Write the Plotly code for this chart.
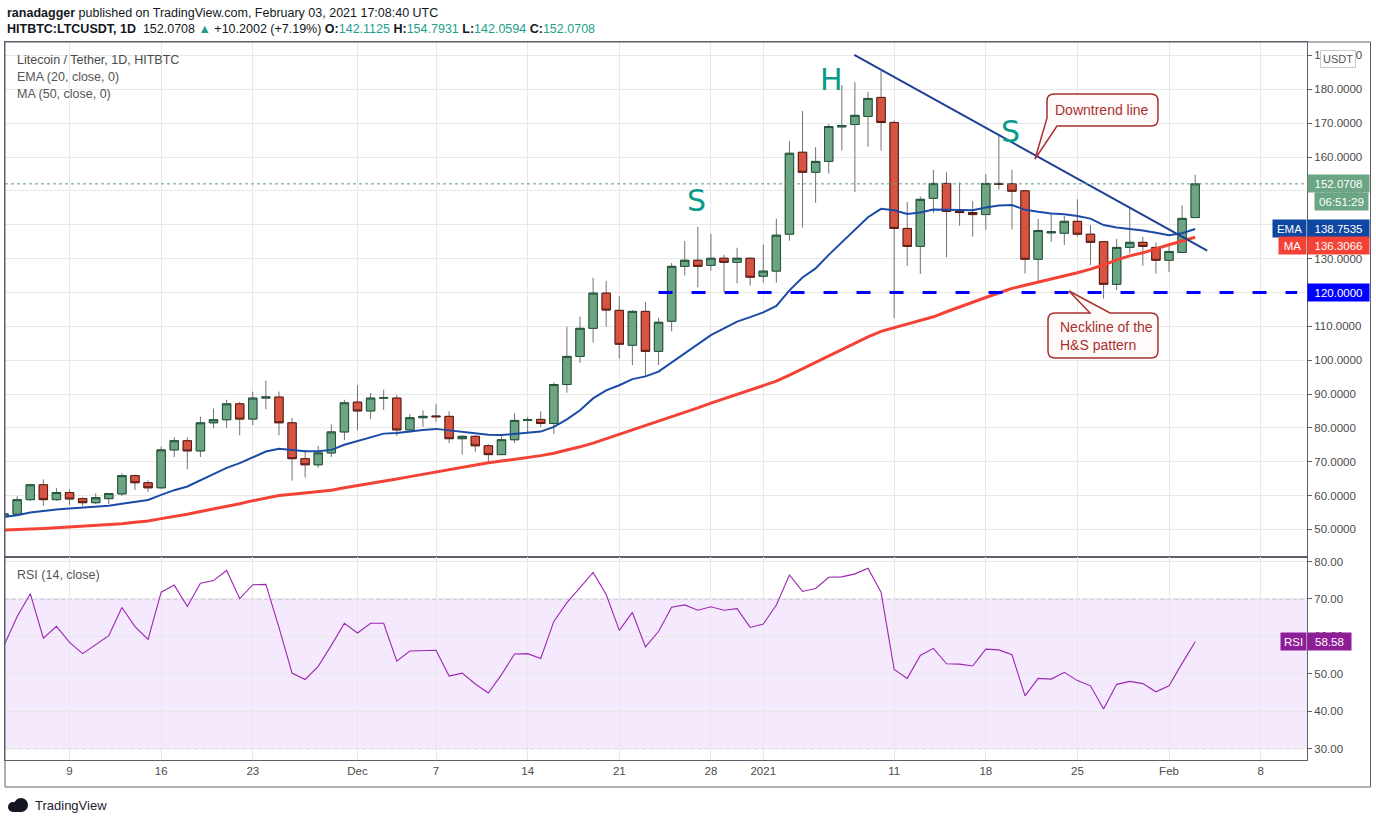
import plotly.graph_objects as go
import pandas as pd

# ---------------- data ----------------
dates = pd.date_range("2020-11-04", "2021-02-03", freq="D")

opens = [53.8, 54.5, 58.8, 63.2, 58.8, 60.9, 59.1, 57.9, 59.1, 60.5, 65.9, 63.8, 62.3, 73.5, 76.2, 73.2, 81.5,
         82.4, 87.1, 82.6, 88.8, 89.1, 81.5, 70.9, 69.1, 72.6, 78.8,
         87.6, 85.0, 88.8, 88.8, 79.4, 83.0, 83.5, 83.4, 76.8, 77.5, 74.7, 72.1, 76.5, 82.2, 82.5, 81.3,
         92.8, 101.1, 109.4, 119.8, 114.7, 104.4, 114.4, 102.6, 111.5, 127.7, 129.5, 128.0, 130.1, 128.9, 130.1,
         124.8, 126.3, 137.2, 161.4, 155.5, 158.7, 168.9, 169.6, 172.0, 177.6, 170.2, 138.9, 133.6, 147.8,
         152.2, 143.9, 143.6, 143.0, 152.2, 152.1, 150.0, 129.8, 137.6, 137.5, 141.0, 137.2, 135.0, 122.4,
         133.3, 134.8, 133.3, 129.5, 131.8, 142.1125]
highs = [55.0, 59.8, 63.5, 64.8, 62.2, 61.9, 59.5, 60.7, 60.7, 66.6, 66.2, 64.5, 74.5, 77.2, 77.2, 83.3, 85.7,
         88.3, 87.7, 90.7, 93.9, 90.7, 82.9, 73.5, 74.7, 81.0, 88.3,
         92.6, 90.3, 91.3, 89.7, 84.1, 85.2, 87.0, 84.9, 77.9, 77.9, 75.2, 77.5, 84.3, 83.2, 84.9, 93.4,
         109.9, 112.8, 124.3, 123.4, 118.9, 114.8, 117.2, 112.5, 128.7, 135.2, 139.4, 137.3, 131.1, 133.2, 130.3,
         134.1, 141.8, 164.7, 173.6, 162.9, 169.7, 181.2, 182.1, 179.2, 185.4, 170.8, 146.7, 148.3, 156.2,
         155.5, 152.5, 147.0, 155.0, 166.3, 156.2, 150.3, 141.7, 143.4, 142.6, 147.5, 139.9, 135.2, 135.8,
         145.3, 136.4, 134.8, 134.0, 145.7, 154.7931]
lows = [53.4, 54.3, 58.4, 57.0, 58.4, 57.2, 57.0, 57.5, 57.5, 59.9, 61.7, 61.1, 61.9, 71.4, 67.8, 71.4, 79.9,
        80.0, 77.8, 80.8, 85.5, 77.8, 64.4, 65.3, 68.2, 71.4, 76.4,
        79.3, 82.6, 85.3, 77.6, 78.5, 80.3, 81.8, 75.5, 72.1, 72.9, 69.4, 72.0, 75.6, 78.3, 80.3, 78.2,
        90.4, 99.2, 105.2, 109.9, 100.5, 98.5, 95.4, 98.5, 108.5, 125.0, 121.5, 126.5, 120.2, 122.7, 122.0,
        122.9, 122.9, 135.3, 139.2, 146.5, 155.1, 161.9, 149.7, 163.0, 161.9, 112.5, 127.9, 125.5, 143.5,
        130.4, 139.7, 136.5, 138.5, 150.4, 138.6, 125.6, 123.0, 135.0, 134.0, 136.5, 128.1, 118.2, 120.7,
        131.5, 127.9, 125.6, 126.1, 131.8, 142.0594]
closes = [54.6, 58.8, 63.2, 58.8, 60.9, 59.0, 57.9, 59.4, 60.6, 65.9, 63.8, 62.3, 73.5, 76.2, 73.2, 81.5, 82.4,
          87.1, 82.6, 88.8, 89.1, 81.5, 70.9, 69.1, 72.6, 78.8, 87.4,
          85.0, 88.8, 88.9, 79.4, 83.0, 83.4, 83.3, 76.8, 77.5, 74.7, 72.1, 76.5, 82.2, 82.4, 81.3, 92.8,
          101.1, 109.4, 119.8, 114.8, 104.7, 114.4, 102.6, 111.2, 127.7, 129.5, 127.7, 130.1, 128.9, 130.1, 124.5,
          126.3, 136.9, 161.1, 155.5, 158.7, 169.0, 169.3, 172.3, 177.3, 170.2, 138.9, 133.6, 147.5, 152.2,
          143.9, 143.6, 143.0, 152.2, 151.9, 149.9, 129.8, 138.3, 137.9, 141.0, 137.2, 134.8, 122.4, 133.3,
          134.8, 133.6, 129.5, 132.1, 141.87, 152.0708]

ema20 = [53.7, 54.2, 55.0, 55.5, 55.9, 56.2, 56.4, 56.7, 57.0, 57.6, 58.2, 58.7, 60.2, 61.6, 62.7, 64.6, 66.5,
         68.2, 69.6, 71.2, 73.0, 73.8, 73.5, 73.1, 73.1, 73.5, 75.0,
         76.1, 77.1, 78.3, 78.5, 79.0, 79.4, 79.7, 79.3, 78.9, 78.4, 78.0, 77.9, 78.3, 78.6, 78.9, 80.3,
         82.5, 85.2, 88.7, 91.1, 92.6, 94.4, 95.2, 96.6, 99.3, 102.2, 104.8, 107.4, 109.4, 111.4, 112.7,
         114.1, 116.0, 120.6, 124.4, 127.1, 131.1, 134.7, 138.6, 142.2, 144.7, 144.3, 143.2, 143.6, 144.5,
         144.5, 144.3, 144.3, 145.1, 145.7, 145.8, 144.4, 143.8, 143.3, 143.1, 142.6, 141.8, 139.9, 139.2,
         138.8, 138.3, 137.6, 136.9, 137.5, 138.7535]
ma50 = [49.8, 49.9, 50.1, 50.3, 50.5, 50.7, 50.9, 51.1, 51.4, 51.7, 52.1, 52.5, 53.2, 53.8, 54.5, 55.3, 56.0,
        56.8, 57.6, 58.5, 59.3, 60.0, 60.4, 60.8, 61.1, 61.6, 62.3,
        62.9, 63.6, 64.3, 64.9, 65.6, 66.3, 67.1, 67.8, 68.5, 69.1, 69.7, 70.2, 70.7, 71.2, 71.8, 72.5,
        73.4, 74.4, 75.5, 76.8, 77.9, 79.2, 80.5, 81.8, 83.1, 84.5, 85.9, 87.3, 88.6, 89.9, 91.3,
        92.5, 93.8, 95.6, 97.5, 99.3, 101.2, 103.1, 105.0, 106.9, 108.5, 109.6, 110.5, 111.6, 112.8,
        114.3, 115.8, 117.1, 118.5, 119.9, 121.2, 122.1, 123.0, 123.9, 124.8, 125.8, 126.9, 128.1, 129.6,
        130.8, 131.7, 133.0, 134.1, 135.2, 136.3066]
rsi14 = [57.6, 65.3, 71.4, 59.5, 62.7, 58.4, 55.4, 57.9, 60.2, 67.7, 62.6, 59.2, 71.8, 73.7, 68.0, 74.2, 74.9,
         77.6, 70.1, 73.8, 73.9, 62.4, 50.2, 48.5, 52.0, 57.6, 63.5,
         60.9, 63.5, 63.5, 53.4, 56.1, 56.3, 56.3, 49.4, 50.2, 47.3, 44.9, 49.8, 55.3, 55.4, 54.1, 64.0,
         69.0, 73.0, 77.1, 71.2, 61.6, 66.4, 57.2, 61.3, 67.8, 68.4, 67.0, 67.9, 67.0, 67.4, 62.4,
         63.3, 68.4, 76.4, 72.0, 72.8, 75.8, 75.9, 76.7, 78.2, 71.8, 51.2, 48.8, 54.9, 56.8,
         52.7, 52.6, 52.1, 56.6, 56.4, 55.1, 44.1, 48.8, 48.6, 50.4, 48.2, 46.8, 40.6, 47.2,
         48.0, 47.4, 45.2, 46.8, 52.8, 58.58]

tick_dates = ["2020-11-09", "2020-11-16", "2020-11-23", "2020-12-01", "2020-12-07", "2020-12-14",
              "2020-12-21", "2020-12-28", "2021-01-01", "2021-01-11", "2021-01-18", "2021-01-25",
              "2021-02-01", "2021-02-08"]
tick_labels = ["9", "16", "23", "Dec", "7", "14", "21", "28", "2021", "11", "18", "25", "Feb", "8"]
price_ticks = [50, 60, 70, 80, 90, 100, 110, 120, 130, 140, 150, 160, 170, 180, 190]
rsi_ticks = [30, 40, 50, 60, 70, 80]

trend_x = ["2021-01-07 22:50", "2021-02-03 22:00"]
trend_y = [190.16, 132.36]
neck_x = ["2020-12-24 00:00", "2021-02-10 19:00"]
neck_y = [120.0, 120.0]
last_price = 152.0708
ema_last = 138.7535
ma_last = 136.3066
rsi_last = 58.58

for arr in (opens, highs, lows, closes, ema20, ma50, rsi14):
    assert len(arr) == len(dates)

# ---------------- styling helpers ----------------
FONT = "Liberation Sans, Arial, sans-serif"
W, H = 1376, 824
L, R, T, B = 5, 1307, 42, 760
PW, PH = R - L, B - T


def PX(x):
    return (x - L) / PW


def PY(y):
    return (B - y) / PH


def P(x, y):
    return f"{PX(x):.5f},{PY(y):.5f}"


UP_FILL, UP_LINE = "#6ba583", "#225437"
DN_FILL, DN_LINE = "#d75442", "#5b1a13"
WICK = "#737375"
GRID = "#e8e8e8"
AXC = "#4b4b4b"
FRAME = "#5d606b"

fig = go.Figure()

# wicks
fig.add_trace(go.Candlestick(
    x=dates, open=opens, high=highs, low=lows, close=closes,
    increasing=dict(line=dict(color=WICK, width=1), fillcolor=UP_FILL),
    decreasing=dict(line=dict(color=WICK, width=1), fillcolor=DN_FILL),
    xaxis="x", yaxis="y", hoverinfo="skip", showlegend=False))
# bodies
body_hi = [max(o, c) for o, c in zip(opens, closes)]
body_lo = [min(o, c) for o, c in zip(opens, closes)]
fig.add_trace(go.Candlestick(
    x=dates, open=opens, high=body_hi, low=body_lo, close=closes,
    increasing=dict(line=dict(color=UP_LINE, width=1), fillcolor=UP_FILL),
    decreasing=dict(line=dict(color=DN_LINE, width=1), fillcolor=DN_FILL),
    xaxis="x", yaxis="y", hoverinfo="skip", showlegend=False))

# moving averages
fig.add_trace(go.Scatter(x=dates, y=ma50, mode="lines", line=dict(color="#f44336", width=3),
                         xaxis="x", yaxis="y", hoverinfo="skip", showlegend=False))
fig.add_trace(go.Scatter(x=dates, y=ema20, mode="lines", line=dict(color="#1a4ba6", width=2),
                         xaxis="x", yaxis="y", hoverinfo="skip", showlegend=False))

# drawn lines
fig.add_trace(go.Scatter(x=trend_x, y=trend_y, mode="lines", line=dict(color="#1f3f94", width=2),
                         xaxis="x", yaxis="y", hoverinfo="skip", showlegend=False))
fig.add_trace(go.Scatter(x=neck_x, y=neck_y, mode="lines", line=dict(color="#0000ff", width=3, dash="14px,19px"),
                         xaxis="x", yaxis="y", hoverinfo="skip", showlegend=False))

# RSI
fig.add_trace(go.Scatter(x=dates, y=rsi14, mode="lines", line=dict(color="#9c27b0", width=1.1),
                         xaxis="x2", yaxis="y2", hoverinfo="skip", showlegend=False))

split = (B - 557) / PH

xrange = ["2020-11-04 01:40", "2021-02-11 13:00"]
common_x = dict(type="date", range=xrange, tickvals=tick_dates, ticktext=tick_labels,
                showgrid=True, gridcolor=GRID, gridwidth=1, zeroline=False,
                showline=True, linecolor=FRAME, linewidth=1, mirror=True,
                rangeslider=dict(visible=False), fixedrange=True)

fig.update_layout(
    width=W, height=H,
    margin=dict(l=L, r=W - R, t=T, b=H - B),
    paper_bgcolor="white", plot_bgcolor="white",
    font=dict(family=FONT, color=AXC, size=11.5),
    boxgap=0.36, boxgroupgap=0,
    showlegend=False,
    xaxis=dict(common_x, anchor="y", showticklabels=False, ticks=""),
    xaxis2=dict(common_x, anchor="y2", matches="x", showticklabels=True, ticks="",
                tickfont=dict(family=FONT, size=11.5, color=AXC)),
    yaxis=dict(domain=[split, 1], side="right", range=[41.86, 193.97], tickvals=price_ticks,
               tickformat=".4f", ticks="outside", ticklen=4, tickcolor=FRAME,
               showgrid=True, gridcolor=GRID, zeroline=False,
               showline=True, linecolor=FRAME, mirror=True, anchor="x",
               tickfont=dict(family=FONT, size=11.5, color=AXC)),
    yaxis2=dict(domain=[0, split], side="right", range=[27.0, 81.2], tickvals=rsi_ticks,
                tickformat=".2f", ticks="outside", ticklen=4, tickcolor=FRAME,
                showgrid=True, gridcolor=GRID, zeroline=False,
                showline=True, linecolor=FRAME, mirror=True, anchor="x2",
                tickfont=dict(family=FONT, size=11.5, color=AXC)),
)

shapes = []
# RSI band
shapes.append(dict(type="rect", xref="x2 domain", x0=0, x1=1, yref="y2", y0=30, y1=70,
                   fillcolor="rgba(176,82,238,0.13)", line=dict(width=0), layer="below"))
for lvl in (70, 30):
    shapes.append(dict(type="line", xref="x2 domain", x0=0, x1=1, yref="y2", y0=lvl, y1=lvl,
                       line=dict(color="#b8a6c0", width=1, dash="4px,3px"), layer="below"))
# last price dotted line
shapes.append(dict(type="line", xref="x domain", x0=0, x1=1, yref="y", y0=last_price, y1=last_price,
                   line=dict(color="#5f9c80", width=1, dash="dot"), layer="above"))
# outer frame
shapes.append(dict(type="rect", xref="paper", yref="paper", x0=PX(5), x1=PX(1370.5), y0=PY(787), y1=PY(42),
                   line=dict(color=FRAME, width=1), fillcolor="rgba(0,0,0,0)"))

# callouts
CALL_LINE = "#a8312f"
p1 = ("M" + P(1054, 94) + " L" + P(1151, 94) + " Q" + P(1158, 94) + " " + P(1158, 101) +
      " L" + P(1158, 119) + " Q" + P(1158, 126) + " " + P(1151, 126) + " L" + P(1057, 126) +
      " L" + P(1035, 159) + " L" + P(1047, 118) + " L" + P(1047, 101) + " Q" + P(1047, 94) + " " + P(1054, 94) + " Z")
p2 = ("M" + P(1055, 313) + " L" + P(1090, 313) + " L" + P(1069, 291) + " L" + P(1110, 313) +
      " L" + P(1151, 313) + " Q" + P(1158, 313) + " " + P(1158, 320) + " L" + P(1158, 351) +
      " Q" + P(1158, 358) + " " + P(1151, 358) + " L" + P(1055, 358) + " Q" + P(1048, 358) + " " + P(1048, 351) +
      " L" + P(1048, 320) + " Q" + P(1048, 313) + " " + P(1055, 313) + " Z")
for p in (p1, p2):
    shapes.append(dict(type="path", xref="paper", yref="paper", path=p,
                       fillcolor="#fffafa", line=dict(color=CALL_LINE, width=1.5), layer="above"))

# TradingView logo icon
shapes.append(dict(type="circle", xref="paper", yref="paper", x0=PX(8), x1=PX(18), y0=PY(812), y1=PY(802),
                   fillcolor="#131722", line=dict(width=0)))
shapes.append(dict(type="circle", xref="paper", yref="paper", x0=PX(14), x1=PX(28), y0=PY(812), y1=PY(798),
                   fillcolor="#131722", line=dict(width=0)))
shapes.append(dict(type="rect", xref="paper", yref="paper", x0=PX(13), x1=PX(22), y0=PY(812), y1=PY(806),
                   fillcolor="#131722", line=dict(width=0)))
fig.update_layout(shapes=shapes)

ann = []


def text_at(x, y, txt, size=12.5, color="#131722", xanchor="left", family=FONT, **kw):
    ann.append(dict(xref="paper", yref="paper", x=PX(x), y=PY(y), text=txt, showarrow=False,
                    xanchor=xanchor, yanchor="middle", font=dict(family=family, size=size, color=color), **kw))


GREENTXT = "#22a08c"
text_at(5, 13, "<b>ranadagger</b> published on TradingView.com, February 03, 2021 17:08:40 UTC", size=12.5)
text_at(5, 29, "<b>HITBTC:LTCUSDT, 1D</b>  152.0708 <span style='color:%s'>▲</span> +10.2002 (+7.19%%) "
               "<b>O:</b><span style='color:%s'>142.1125</span> <b>H:</b><span style='color:%s'>154.7931</span> "
               "<b>L:</b><span style='color:%s'>142.0594</span> <b>C:</b><span style='color:%s'>152.0708</span>"
        % ((GREENTXT,) * 5), size=12.5)
text_at(15, 60, "Litecoin / Tether, 1D, HITBTC", size=12.5, color="#4a4a4a")
text_at(15, 77, "EMA (20, close, 0)", size=12.5, color="#555555")
text_at(15, 94, "MA (50, close, 0)", size=12.5, color="#555555")
text_at(15, 575, "RSI (14, close)", size=12.5, color="#555555")

# pattern letters
TEAL = "#0a9a8a"
text_at(831, 80, "H", size=30, color=TEAL, xanchor="center", family="DejaVu Sans, sans-serif")
text_at(697, 200, "S", size=30, color=TEAL, xanchor="center", family="DejaVu Sans, sans-serif")
text_at(1011, 131, "S", size=30, color=TEAL, xanchor="center", family="DejaVu Sans, sans-serif")

# callout texts
text_at(1102, 110, "Downtrend line", size=14, color=CALL_LINE, xanchor="center")
ann.append(dict(xref="paper", yref="paper", x=PX(1058), y=PY(336), text="Neckline of the<br>H&S pattern",
                showarrow=False, xanchor="left", yanchor="middle", align="left",
                font=dict(family=FONT, size=14, color=CALL_LINE)))

# TradingView logo text
text_at(33, 805, "TradingView", size=13, color="#1e222d")


def side_label(txt, y, yref, bg, anchor="left", width=58, xshift=0, color="white"):
    ann.append(dict(xref="paper", x=1.0, y=y, yref=yref, text=txt, showarrow=False,
                    xanchor=anchor, yanchor="middle", xshift=xshift, bgcolor=bg, width=width, height=14,
                    borderpad=1.5, align="center", font=dict(family=FONT, size=11.5, color=color)))


side_label("%.4f" % last_price, last_price, "y", "#6ba583")
side_label("06:51:29", 146.9, "y", "#6ba583", width=50, xshift=7)
side_label("EMA", ema_last, "y", "#0d47a1", anchor="right", width=30)
side_label("%.4f" % ema_last, ema_last, "y", "#0d47a1")
side_label("MA", 133.95, "y", "#f44336", anchor="right", width=24)
side_label("%.4f" % ma_last, 133.95, "y", "#f44336")
side_label("%.4f" % 120.0, 120.0, "y", "#0000ff")
side_label("RSI", rsi_last, "y2", "#8e1e98", anchor="right", width=22)
side_label("%.2f" % rsi_last, rsi_last, "y2", "#8e1e98", width=40)

# USDT badge
ann.append(dict(xref="paper", yref="paper", x=PX(1338), y=PY(59), text="USDT", showarrow=False,
                xanchor="center", yanchor="middle", bgcolor="white", bordercolor="#c8c8d0", borderwidth=1,
                borderpad=2, font=dict(family=FONT, size=11, color="#555")))

fig.update_layout(annotations=ann)

fig.write_html("out.html", config={"displayModeBar": False},
               post_script="document.body.style.margin='0px';")
